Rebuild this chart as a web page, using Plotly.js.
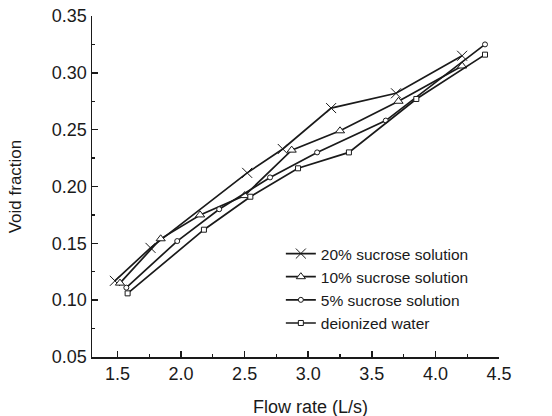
<!DOCTYPE html>
<html>
<head>
<meta charset="utf-8">
<script src="https://cdn.plot.ly/plotly-3.0.1.min.js"></script>
<style>html,body{margin:0;padding:0;background:#fff;}#chart{width:552px;height:416px;}</style>
</head>
<body>
<div id="chart"></div>
<script>
// Series names
var seriesNames = ["20% sucrose solution", "10% sucrose solution", "5% sucrose solution", "deionized water"];

// 20% sucrose solution
var x20 = [1.48, 1.76, 2.52, 2.80, 3.18, 3.69, 4.21];
var y20 = [0.117, 0.146, 0.212, 0.233, 0.269, 0.282, 0.315];

// 10% sucrose solution
var x10 = [1.52, 1.84, 2.15, 2.50, 2.87, 3.25, 3.71, 4.21];
var y10 = [0.115, 0.154, 0.175, 0.192, 0.232, 0.249, 0.275, 0.306];

// 5% sucrose solution
var x5 = [1.57, 1.97, 2.30, 2.70, 3.07, 3.61, 4.39];
var y5 = [0.111, 0.152, 0.180, 0.208, 0.230, 0.258, 0.325];

// deionized water
var xw = [1.58, 2.18, 2.545, 2.92, 3.32, 3.85, 4.39];
var yw = [0.106, 0.162, 0.191, 0.216, 0.230, 0.277, 0.316];

// axis ticks and titles
var xTicks = [1.5, 2.0, 2.5, 3.0, 3.5, 4.0, 4.5];
var xTickLabels = ["1.5", "2.0", "2.5", "3.0", "3.5", "4.0", "4.5"];
var yTicks = [0.05, 0.10, 0.15, 0.20, 0.25, 0.30, 0.35];
var yTickLabels = ["0.05", "0.10", "0.15", "0.20", "0.25", "0.30", "0.35"];
var xTitle = "Flow rate (L/s)";
var yTitle = "Void fraction";

var ink = "#1a1a1a";
function mk(x, y, name, symbol, size) {
  return {
    x: x, y: y, name: name, type: "scatter", mode: "lines+markers",
    line: {color: ink, width: 1.7},
    marker: {symbol: symbol, size: size, color: "#fff", line: {color: ink, width: 1}}
  };
}
var traces = [
  mk(x20, y20, seriesNames[0], "x-thin", 10),
  mk(x10, y10, seriesNames[1], "triangle-up", 8),
  mk(x5, y5, seriesNames[2], "circle", 5),
  mk(xw, yw, seriesNames[3], "square", 5)
];
traces[0].marker.color = ink;

var font = "Liberation Sans, Arial, sans-serif";
var layout = {
  width: 552, height: 416,
  margin: {l: 92, r: 53, t: 16, b: 59},
  paper_bgcolor: "#fff", plot_bgcolor: "#fff",
  showlegend: true,
  legend: {x: 0.464, y: 0.352, xanchor: "left", yanchor: "top",
           font: {family: font, size: 15.5, color: ink}, bgcolor: "rgba(0,0,0,0)"},
  xaxis: {
    range: [1.3, 4.5], tickvals: xTicks, ticktext: xTickLabels,
    showgrid: false, zeroline: false, showline: true, linecolor: ink, linewidth: 1.5,
    ticks: "inside", ticklen: 6, tickwidth: 1.5, tickcolor: ink,
    minor: {dtick: 0.25, ticks: "inside", ticklen: 3, tickwidth: 1.2, tickcolor: ink},
    tickfont: {family: font, size: 18, color: ink}
  },
  yaxis: {
    range: [0.05, 0.35], tickvals: yTicks, ticktext: yTickLabels,
    showgrid: false, zeroline: false, showline: true, linecolor: ink, linewidth: 1.5,
    ticks: "inside", ticklen: 6, tickwidth: 1.5, tickcolor: ink,
    minor: {dtick: 0.025, ticks: "inside", ticklen: 3, tickwidth: 1.2, tickcolor: ink},
    tickfont: {family: font, size: 18, color: ink},
    title: {text: yTitle, font: {family: font, size: 17, color: ink}, standoff: 26}
  },
  annotations: [{
    text: xTitle, xref: "paper", yref: "paper", x: 0.538, y: -0.147,
    xanchor: "center", yanchor: "middle", showarrow: false,
    font: {family: font, size: 18, color: ink}
  }]
};
Plotly.newPlot("chart", traces, layout, {staticPlot: true, displayModeBar: false});
</script>
</body>
</html>
